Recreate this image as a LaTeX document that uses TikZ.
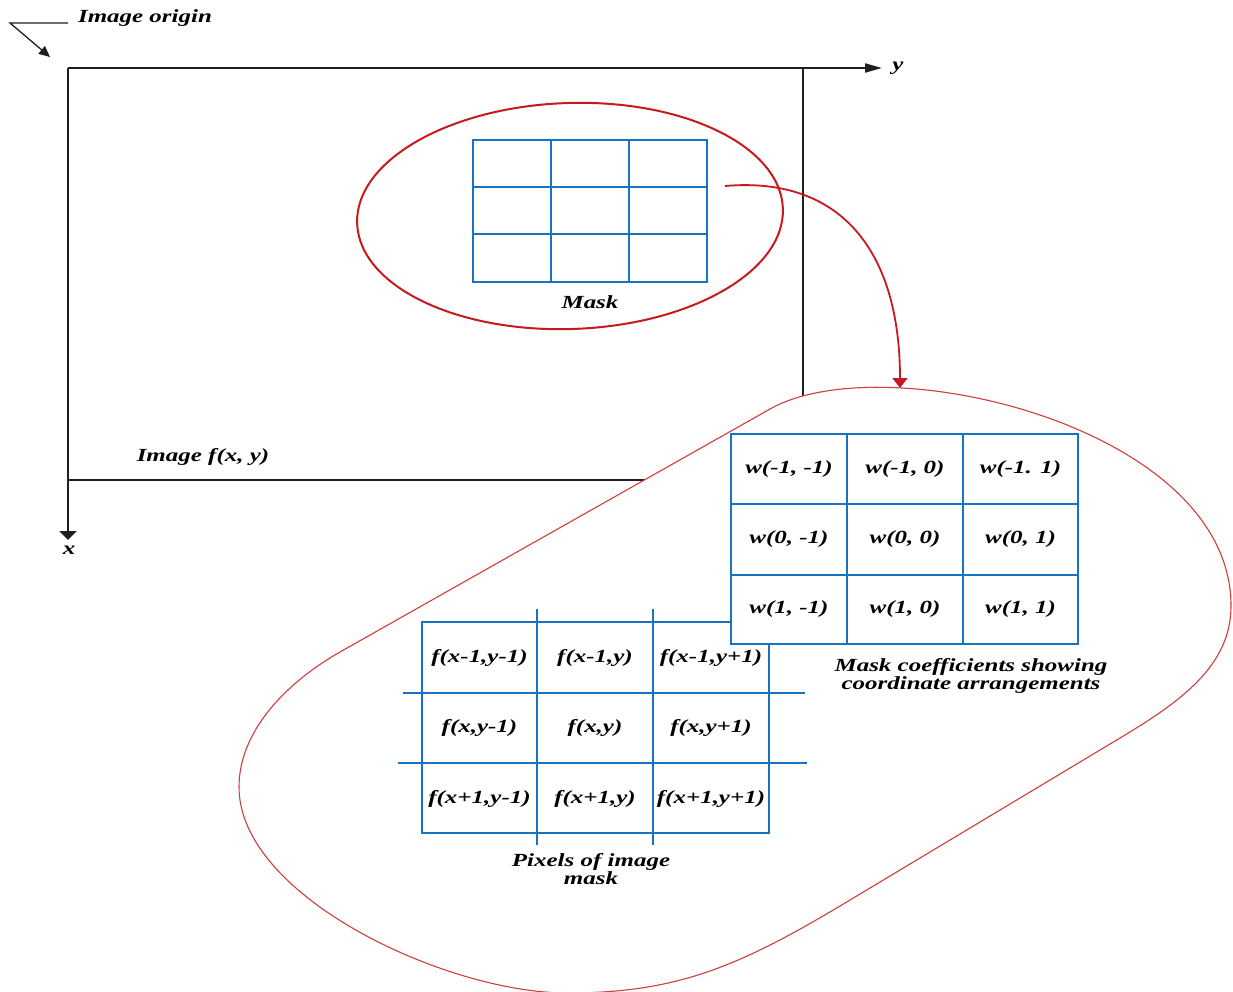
\documentclass[tikz,border=0pt]{standalone}
\usepackage{fontspec}
\usepackage{graphicx}
\setmainfont{Liberation Serif}
\usetikzlibrary{arrows.meta}
\definecolor{gblue}{RGB}{25,115,195}
\definecolor{mred}{RGB}{200,25,30}
\definecolor{pred}{RGB}{210,60,60}
\newcommand{\wtxt}[1]{\scalebox{1.35}[1]{#1}}
\tikzset{
  lbl/.style={font=\fontsize{18.5}{18}\selectfont\bfseries\itshape, inner sep=0pt, align=center},
  blackline/.style={line width=2pt, draw=black!88},
  bluegrid/.style={line width=2pt, draw=gblue},
}
\begin{document}
\begin{tikzpicture}[x=1pt,y=-1pt]
\useasboundingbox[fill=white] (0,0) rectangle (1233,992);

% image frame and axes
\coordinate (O) at (68,68);
\coordinate (Yend) at (882,68);
\coordinate (Xend) at (68,540);
\coordinate (TR) at (803,68);
\coordinate (BR) at (803,480);
\coordinate (BL) at (68,480);
\draw[blackline] (TR) -- (BR) -- (BL);
\draw[blackline, -{Triangle[length=17pt,width=9pt]}] (O) -- (Yend);
\draw[blackline, -{Triangle[length=9pt,width=17pt]}] (O) -- (Xend);
\node[lbl] (ylab) at (898,68) {\wtxt{y}};
\node[lbl] (xlab) at (69,550) {\wtxt{x}};
\node[lbl] (imglab) at (203,457) {\wtxt{Image f(x, y)}};

% image origin
\node[lbl] (origin) at (145,18) {\wtxt{Image origin}};
\coordinate (ol) at (68,23);
\coordinate (oc) at (10,23);
\coordinate (ot) at (50,57);
\draw[line width=1.3pt, black!88, -{Triangle[length=11pt,width=10pt]}] (ol) -- (oc) -- (ot);

% mask on image
\draw[mred, line width=2pt, rotate around={2:(570,216)}] (570,216) ellipse [x radius=213, y radius=113];
\draw[bluegrid] (473,140) rectangle (707,282);
\draw[bluegrid] (551,140) -- (551,282) (629,140) -- (629,282)
                (473,187) -- (707,187) (473,234) -- (707,234);
\node[lbl] (masklab) at (590,302) {\wtxt{Mask}};

% pill shaped enlargement
\draw[pred, line width=1.1pt, fill=white]
  (340,652) -- (770,409)
  .. controls (883,345) and (1231,426) .. (1231,606)
  .. controls (1231,666) and (1180,702) .. (1120,738)
  -- (850,900)
  .. controls (739,967) and (677,993) .. (567,993)
  .. controls (447,993) and (239,897) .. (239,787)
  .. controls (239,730) and (288,681.5) .. cycle;

% red arrow
\coordinate (ms) at (725,186);
\coordinate (me) at (900,388);
\draw[mred, line width=1.8pt, -{Triangle[length=10pt,width=15pt]}] (ms) .. controls (840,176) and (900,250) .. (me);

% pixels of image grid
\draw[bluegrid] (422,622) rectangle (769,833);
\draw[bluegrid] (537,609) -- (537,845) (653,609) -- (653,845)
                (403,693) -- (805,693) (398,763) -- (807,763);
\node[lbl] (f11) at (479.5,658) {\wtxt{f(x-1,y-1)}};
\node[lbl] (f12) at (595,658) {\wtxt{f(x-1,y)}};
\node[lbl] (f13) at (711,658) {\wtxt{f(x-1,y+1)}};
\node[lbl] (f21) at (479.5,728) {\wtxt{f(x,y-1)}};
\node[lbl] (f22) at (595,728) {\wtxt{f(x,y)}};
\node[lbl] (f23) at (711,728) {\wtxt{f(x,y+1)}};
\node[lbl] (f31) at (479.5,799) {\wtxt{f(x+1,y-1)}};
\node[lbl] (f32) at (595,799) {\wtxt{f(x+1,y)}};
\node[lbl] (f33) at (711,799) {\wtxt{f(x+1,y+1)}};
\node[lbl] (pixlab) at (591,869) {\wtxt{Pixels of image}\\\wtxt{mask}};

% mask coefficients grid
\filldraw[bluegrid, fill=white] (731,434) rectangle (1078,644);
\draw[bluegrid] (847,434) -- (847,644) (963,434) -- (963,644)
                (731,504) -- (1078,504) (731,575) -- (1078,575);
\node[lbl] (w11) at (789,469) {\wtxt{w(-1, -1)}};
\node[lbl] (w12) at (905,469) {\wtxt{w(-1, 0)}};
\node[lbl] (w13) at (1020.5,469) {\wtxt{w(-1. 1)}};
\node[lbl] (w21) at (789,539.5) {\wtxt{w(0, -1)}};
\node[lbl] (w22) at (905,539.5) {\wtxt{w(0, 0)}};
\node[lbl] (w23) at (1020.5,539.5) {\wtxt{w(0, 1)}};
\node[lbl] (w31) at (789,609.5) {\wtxt{w(1, -1)}};
\node[lbl] (w32) at (905,609.5) {\wtxt{w(1, 0)}};
\node[lbl] (w33) at (1020.5,609.5) {\wtxt{w(1, 1)}};
\node[lbl] (wlab) at (971,676) {\wtxt{Mask coefficients showing}\\\wtxt{coordinate arrangements}};
\end{tikzpicture}
\end{document}
